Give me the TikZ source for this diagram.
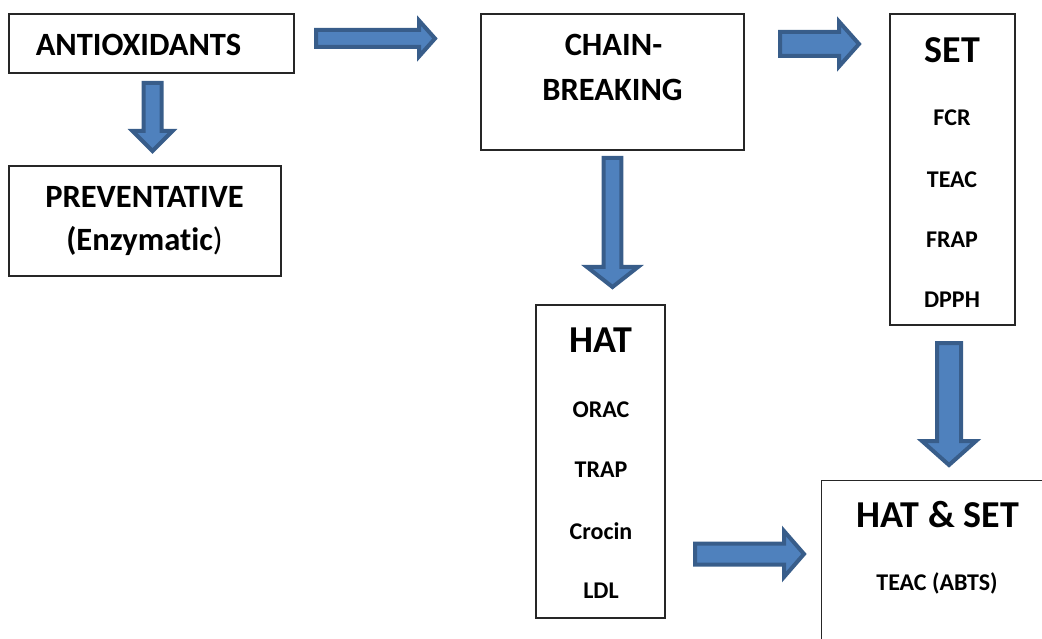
\documentclass[tikz,border=0pt]{standalone}
\usepackage{fontspec}
\setmainfont{Carlito}[Ligatures=NoCommon]
\definecolor{arrfill}{HTML}{4F81BD}
\definecolor{arrline}{HTML}{385D8A}
\begin{document}
\begin{tikzpicture}[x=1pt,y=-1pt,
  box/.style={draw=black!85,line width=1.2pt,fill=white,inner sep=0pt},
  blockarrow/.style={draw=arrline,fill=arrfill,line width=4pt,line join=miter},
  maintxt/.style={font=\fontsize{32.5}{40}\selectfont\bfseries,align=center,inner sep=0pt},
  headtxt/.style={font=\fontsize{38}{44}\selectfont\bfseries,inner sep=0pt},
  smalltxt/.style={font=\fontsize{24}{28}\selectfont\bfseries,inner sep=0pt}]
\useasboundingbox (0,0) rectangle (1042,639);
\clip (0,0) rectangle (1042,639);
% boxes
\node[box,minimum width=285pt,minimum height=59pt] (ao) at (151.5,43.5) {};
\node[box,minimum width=272pt,minimum height=110pt] (prev) at (145,221) {};
\node[box,minimum width=263pt,minimum height=136pt] (cb) at (612.5,82) {};
\node[box,minimum width=125pt,minimum height=311pt] (set) at (952.5,169.5) {};
\node[box,minimum width=129pt,minimum height=313pt] (hat) at (600.5,461.5) {};
\node[box,minimum width=240pt,minimum height=180pt,anchor=north west] (hs) at (821,480) {};
% texts
\node[maintxt] (aot) at (138.5,45) {ANTIOXIDANTS};
\node[maintxt] (prevt1) at (144.5,197) {PREVENTATIVE};
\node[maintxt] (prevt2) at (144.5,241) {(Enzymatic{\mdseries)}};
\node[maintxt] (cbt1) at (613.5,45) {CHAIN-};
\node[maintxt] (cbt2) at (612.5,90) {BREAKING};
\node[headtxt] (sett) at (952.5,50) {SET};
\node[smalltxt] (s1) at (952,118) {FCR};
\node[smalltxt] (s2) at (952,180) {TEAC};
\node[smalltxt] (s3) at (952,240) {FRAP};
\node[smalltxt] (s4) at (952,300) {DPPH};
\node[headtxt] (hatt) at (601,340) {HAT};
\node[smalltxt] (h1) at (601,410) {ORAC};
\node[smalltxt] (h2) at (601,470) {TRAP};
\node[smalltxt] (h3) at (601,531) {Crocin};
\node[smalltxt] (h4) at (601,591) {LDL};
\node[headtxt] (hst) at (938,515) {HAT \& SET};
\node[smalltxt] (hs1) at (937,583) {TEAC (ABTS)};
% block arrows
\draw[blockarrow] (316,30)--(419,30)--(419,20.5)--(435,38.5)--(419,56.5)--(419,47)--(316,47)--cycle;
\draw[blockarrow] (143.5,83)--(161.5,83)--(161.5,131)--(172.5,131)--(152.5,151)--(132.5,131)--(143.5,131)--cycle;
\draw[blockarrow] (780,32)--(839,32)--(839,21.5)--(859,44)--(839,66.5)--(839,56)--(780,56)--cycle;
\draw[blockarrow] (603.7,158)--(621.3,158)--(621.3,267)--(638,267)--(612.5,287)--(587,267)--(603.7,267)--cycle;
\draw[blockarrow] (937,343)--(961,343)--(961,441)--(976,441)--(949,465)--(922,441)--(937,441)--cycle;
\draw[blockarrow] (695,543.5)--(784,543.5)--(784,531)--(804,554)--(784,577)--(784,564.5)--(695,564.5)--cycle;
\end{tikzpicture}
\end{document}
